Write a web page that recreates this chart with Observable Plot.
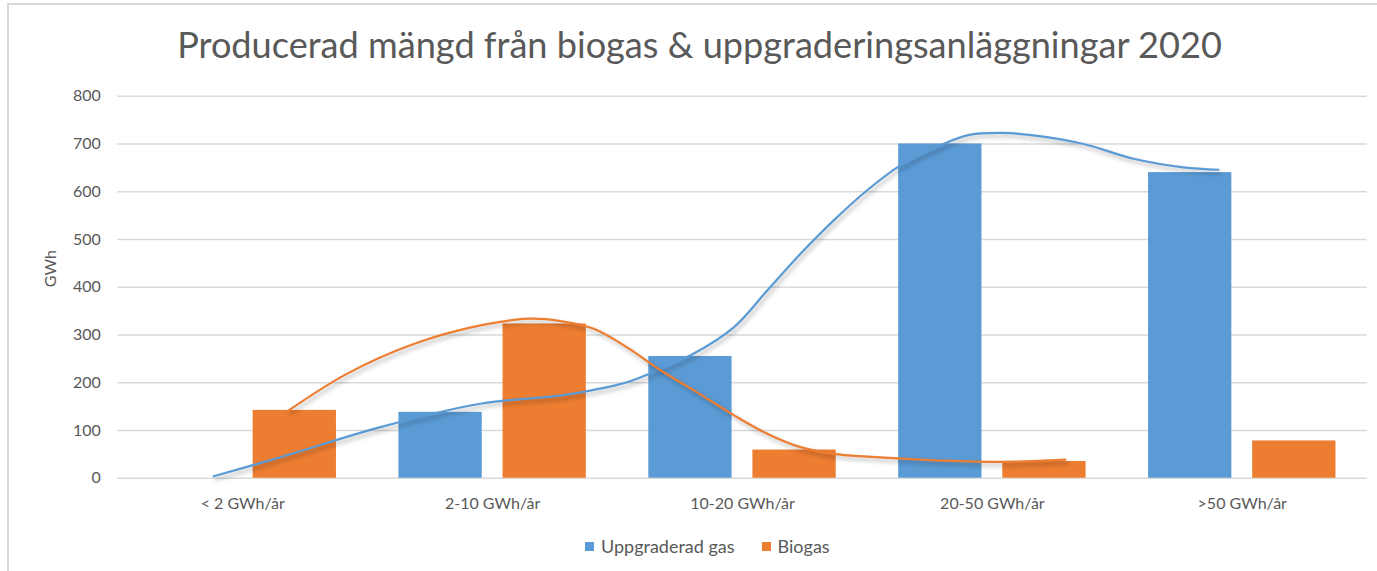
<!DOCTYPE html>
<html><head><meta charset="utf-8">
<script src="https://cdn.jsdelivr.net/npm/d3@7"></script>
<script src="https://cdn.jsdelivr.net/npm/@observablehq/plot@0.6"></script>
<style>
body{margin:0;background:#fff;font-family:Lato,"Open Sans",sans-serif;}
#wrap{position:relative;width:1377px;height:571px;overflow:hidden;background:#fff;}
#frame{position:absolute;left:7px;top:3px;width:1400px;height:620px;border-top:2px solid #d9d9d9;border-left:2px solid #d9d9d9;box-sizing:border-box;}
#titlebox{position:relative;height:82px;}
#title{position:absolute;white-space:nowrap;line-height:1;color:#595959;font-weight:400;}
#chart{position:relative;height:440px;}
#legend{position:absolute;left:585px;top:537px;display:flex;align-items:center;color:#595959;font-size:18px;line-height:1;}
#legend .sw{display:inline-block;width:9px;height:9px;margin-right:7px;}
#legend .it{display:flex;align-items:center;margin-right:27px;}
g[aria-label="line"]{filter:drop-shadow(2px 3px 2px rgba(0,0,0,0.3));}
</style>
</head><body>
<div id="wrap">
  <div id="frame"></div>
  <div id="titlebox"><span id="title">Producerad mängd från biogas &amp; uppgraderingsanläggningar 2020</span></div>
  <div id="chart"></div>
  <div id="legend"></div>
</div>
<script>
const categories = ["< 2 GWh/år", "2-10 GWh/år", "10-20 GWh/år", "20-50 GWh/år", ">50 GWh/år"];
const series = ["Uppgraderad gas", "Biogas"];
const colors = ["#5B9BD5", "#ED7D31"];
const uppgraderadGas = [null, 138, 255, 700, 640];
const biogas = [142, 323, 59, 35, 78];
const yTicks = [0, 100, 200, 300, 400, 500, 600, 700, 800];

// Hand-drawn trend curves: position along the category axis
// (0 = left edge of "< 2 GWh/år", one unit per category) and GWh
const uppgraderadCurvePos = [0.384, 0.651, 1.051, 1.451, 1.771, 1.905, 2.038, 2.172, 2.305, 2.465, 2.599, 2.732, 2.865, 2.999, 3.132, 3.292, 3.399, 3.532, 3.664, 3.865, 4.065, 4.265, 4.404];
const uppgraderadCurveVal = [4, 44, 107, 156, 173, 185, 201, 229, 261, 316, 393, 470, 540, 603, 655, 697, 718, 723, 718, 700, 669, 651, 646];
const biogasCurvePos = [0.684, 0.918, 1.184, 1.451, 1.651, 1.771, 1.905, 2.038, 2.172, 2.305, 2.465, 2.599, 2.732, 2.865, 2.999, 3.292, 3.532, 3.792];
const biogasCurveVal = [142, 219, 281, 320, 334, 329, 313, 274, 226, 184, 132, 93, 65, 51, 45, 37, 34, 39];

// layout within a category: outer padding, bar width, gap
const pad = 0.125, barW = 1 / 3, gap = 1 - 2 * pad - 2 * barW;
const bars = [];
categories.forEach((c, i) => {
  [uppgraderadGas, biogas].forEach((arr, s) => {
    const v = arr[i];
    if (v == null) return;
    const x1 = i + pad + s * (barW + gap);
    bars.push({category: c, series: series[s], value: v, x1, x2: x1 + barW});
  });
});
const blueCurve = uppgraderadCurvePos.map((p, k) => ({pos: p, value: uppgraderadCurveVal[k]}));
const orangeCurve = biogasCurvePos.map((p, k) => ({pos: p, value: biogasCurveVal[k]}));

const chart = Plot.plot({
  width: 1377,
  height: 440,
  marginTop: 13.7,
  marginBottom: 44.3,
  marginLeft: 117.3,
  marginRight: 10.3,
  style: {fontFamily: "Lato, 'Open Sans', sans-serif", fontSize: "16px", color: "#595959", background: "transparent"},
  x: {domain: [0, categories.length], axis: null},
  y: {domain: [0, 800], axis: null},
  color: {domain: series, range: colors},
  marks: [
    Plot.gridY(yTicks, {stroke: "#d9d9d9", strokeOpacity: 1, strokeWidth: 1.5}),
    Plot.axisY({ticks: yTicks, tickSize: 0, tickPadding: 17, fontSize: 16, label: null}),
    Plot.axisX({ticks: categories.map((c, i) => i + 0.5), tickFormat: d => categories[Math.floor(d)], tickSize: 0, tickPadding: 19, fontSize: 16, label: null}),
    Plot.text(["GWh"], {frameAnchor: "left", rotate: -90, dx: -67, fontSize: 16, fill: "#595959"}),
    Plot.rect(bars, {x1: "x1", x2: "x2", y1: 0, y2: "value", fill: "series"}),
    Plot.line(blueCurve, {x: "pos", y: "value", stroke: colors[0], strokeWidth: 2.2, curve: "catmull-rom"}),
    Plot.line(orangeCurve, {x: "pos", y: "value", stroke: colors[1], strokeWidth: 2.2, curve: "catmull-rom"})
  ]
});
document.getElementById("chart").appendChild(chart);

// legend
const legend = document.getElementById("legend");
series.forEach((s, i) => {
  const it = document.createElement("span");
  it.className = "it";
  it.innerHTML = `<span class="sw" style="background:${colors[i]}"></span><span>${s}</span>`;
  legend.appendChild(it);
});

// title: fit to the reference width and place its baseline
const title = document.getElementById("title");
let fs = 32;
title.style.fontSize = fs + "px";
const w = title.getBoundingClientRect().width;
fs = fs * 1045 / w;
title.style.fontSize = fs + "px";
const w2 = title.getBoundingClientRect().width;
title.style.left = (699.5 - w2 / 2) + "px";
title.style.top = (58 - 0.887 * fs) + "px";
</script>
</body></html>
